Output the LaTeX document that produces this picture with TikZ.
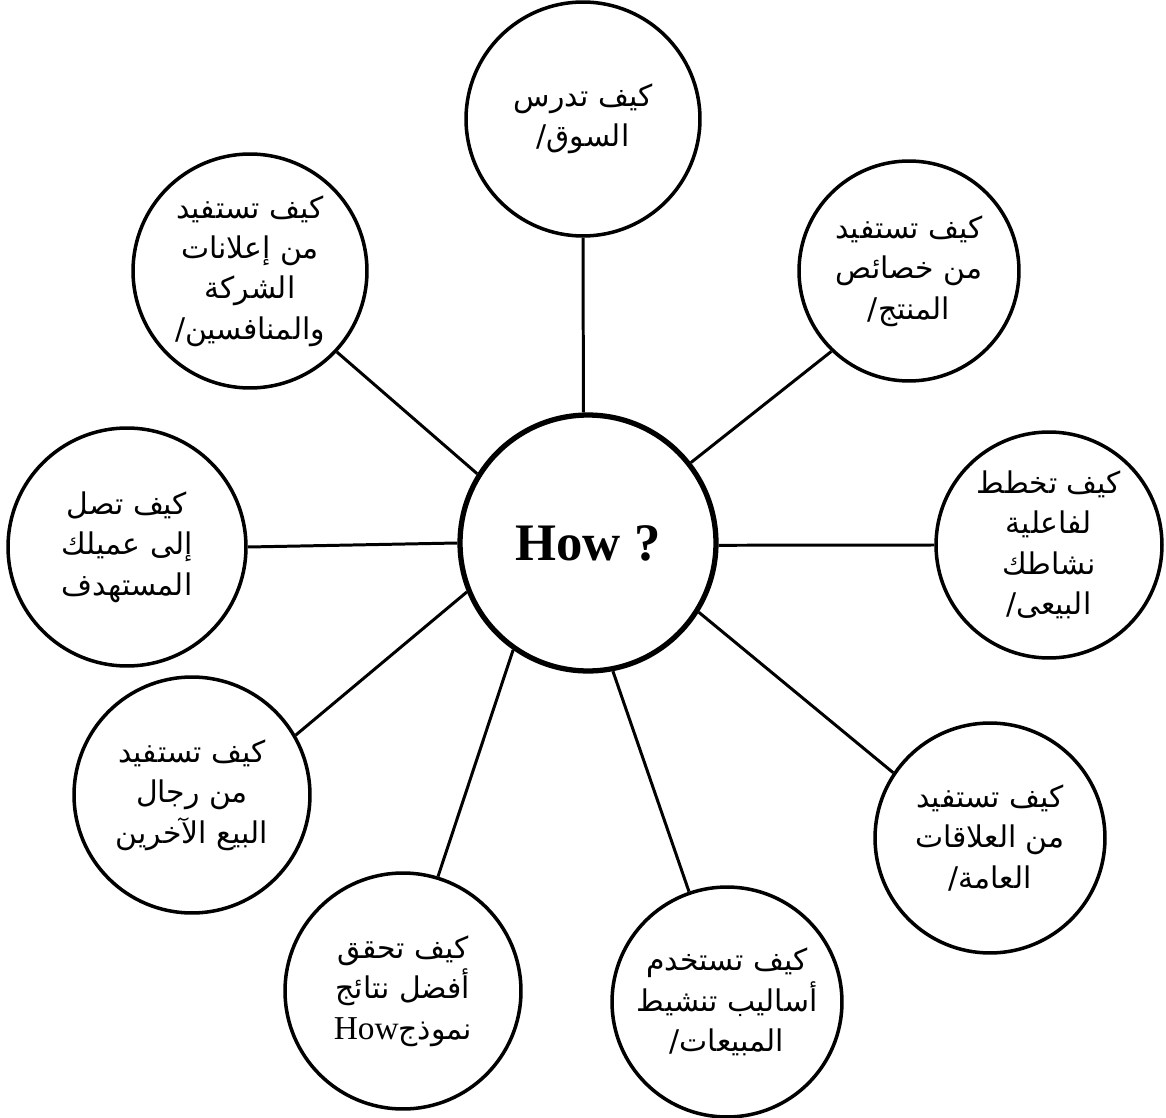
\documentclass[tikz,border=0pt]{standalone}
\usepackage{fontspec}
\setmainfont{Liberation Serif}
\newfontfamily\arabicfont[Script=Arabic]{DejaVu Sans}
\TeXXeTstate=1
\newcommand{\arline}[1]{\beginR #1\endR}
\begin{document}
\begin{tikzpicture}
		[x=0.02cm, y=-0.02cm,
		 bubble/.style={draw, circle, line width=2pt, minimum size=4.6cm, inner sep=0pt, align=center,
		   font=\arabicfont\fontsize{17}{23}\selectfont},
		 hub/.style={draw, circle, line width=3pt, minimum size=5.12cm, font=\bfseries\fontsize{30}{36}\selectfont},
		 spoke/.style={line width=1.7pt}]
		\useasboundingbox (0,0) rectangle (1166,1118);
		\node[hub] (H) at (588,543) {How ?};
		\node[bubble, minimum size=4.68cm] (mkt) at (583,119) {\arline{كيف تدرس}\\\arline{السوق/}};
		\node[bubble, minimum size=4.4cm] (prod) at (909,271) {\arline{كيف تستفيد}\\\arline{من خصائص}\\\arline{المنتج/}};
		\node[bubble, minimum size=4.52cm] (plan) at (1049,545) {\arline{كيف تخطط}\\\arline{لفاعلية}\\\arline{نشاطك}\\\arline{البيعى/}};
		\node[bubble] (pr) at (990,838) {\arline{كيف تستفيد}\\\arline{من العلاقات}\\\arline{العامة/}};
		\node[bubble] (promo) at (727,1002) {\arline{كيف تستخدم}\\\arline{أساليب تنشيط}\\\arline{المبيعات/}};
		\node[bubble, minimum size=4.72cm] (best) at (403,991) {\arline{كيف تحقق}\\\arline{أفضل نتائج}\\\arline{نموذج\beginL{\rmfamily\fontsize{19}{23}\selectfont How}\endL}};
		\node[bubble, minimum size=4.72cm] (sell) at (192,795) {\arline{كيف تستفيد}\\\arline{من رجال}\\\arline{البيع الآخرين}};
		\node[bubble, minimum size=4.76cm] (cust) at (127,547) {\arline{كيف تصل}\\\arline{إلى عميلك}\\\arline{المستهدف}};
		\node[bubble, minimum size=4.68cm] (ads) at (250,271) {\arline{كيف تستفيد}\\\arline{من إعلانات}\\\arline{الشركة}\\\arline{والمنافسين/}};
		\draw (H.92) edge[spoke] (mkt.270);
		\draw (H.38.5) edge[spoke] (prod.226);
		\draw (H.-1) edge[spoke] (plan.180);
		\draw (H.-32) edge[spoke] (pr.146);
		\draw (H.-79) edge[spoke] (promo.109);
		\draw (H.235) edge[spoke] (best.73.5);
		\draw (H.202) edge[spoke] (sell.30);
		\draw (H.180) edge[spoke] (cust.0);
		\draw (H.148.5) edge[spoke] (ads.-43.6);
	\end{tikzpicture}
\end{document}
